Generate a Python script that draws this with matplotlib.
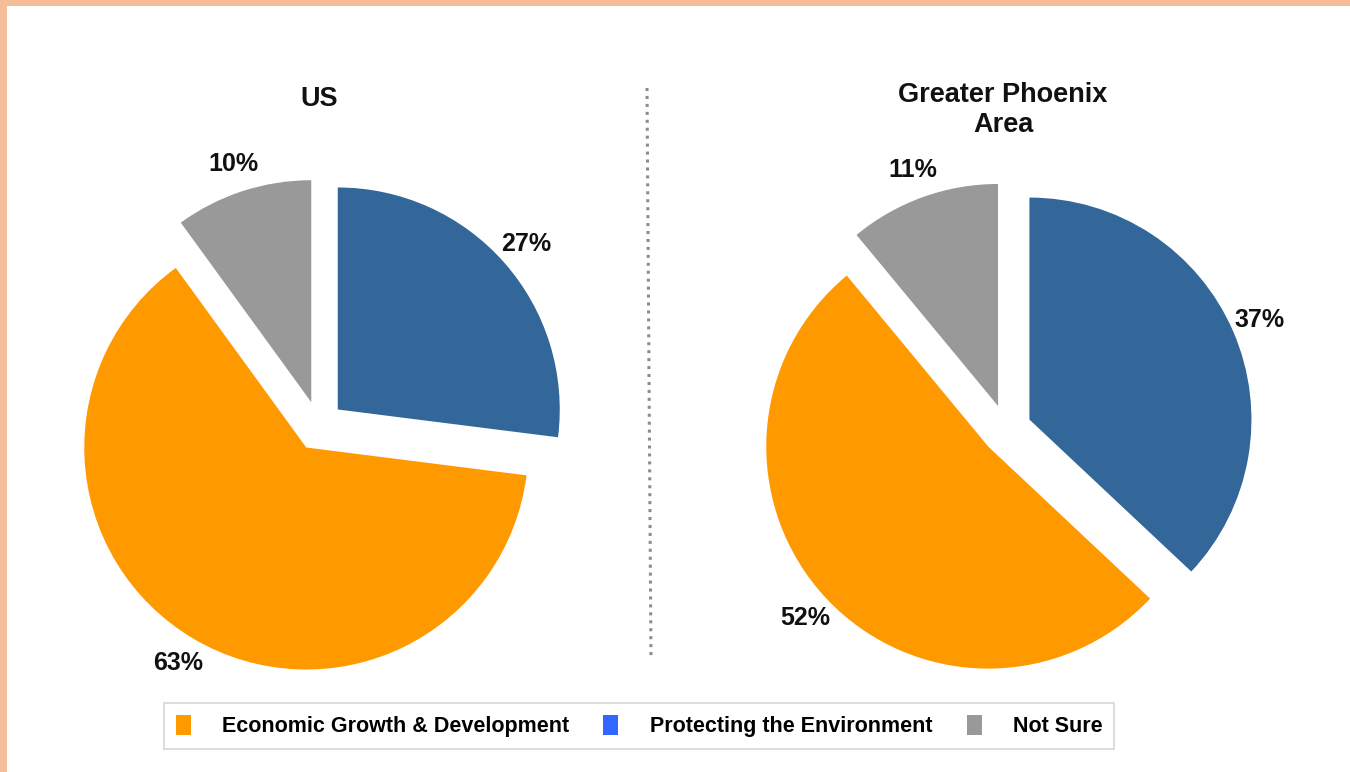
import matplotlib
matplotlib.use("Agg")
import matplotlib.pyplot as plt
from matplotlib.patches import Patch, Rectangle
from matplotlib.lines import Line2D

plt.rcParams['font.family'] = ['Liberation Sans', 'DejaVu Sans']

# ---- data ----
categories = ["Economic Growth & Development", "Protecting the Environment", "Not Sure"]
us_values = [63, 27, 10]
phx_values = [52, 37, 11]
titles = ["US", "Greater Phoenix\nArea"]
pie_colors = ["#FF9900", "#336699", "#999999"]
legend_colors = ["#FF9900", "#3366FF", "#999999"]

W, H = 1350, 772
fig = plt.figure(figsize=(W / 100, H / 100), dpi=100)
fig.patch.set_facecolor("#F5BE98")
ax = fig.add_axes([0, 0, 1, 1])
ax.set_facecolor("none")

# white panel
ax.add_patch(Rectangle((7, 0), W - 7, H - 6, facecolor="white", edgecolor="none", zorder=0))

R = 222
EXP = 25  # explode offset (data units = pixels)
centers = [(319, H - 426), (1006.5, H - 429.5)]
title_pos = [(319, H - 99), (1003, H - 110)]

def order(vals):
    # drawn clockwise from 12 o'clock: Protecting, Economic, Not Sure
    return [vals[1], vals[0], vals[2]]

for vals, c, t, tp in zip([us_values, phx_values], centers, titles, title_pos):
    v = order(vals)
    cols = [pie_colors[1], pie_colors[0], pie_colors[2]]
    wedges, texts, autotexts = ax.pie(
        v, colors=cols, startangle=90, counterclock=False, radius=R, center=c,
        explode=[EXP] * 3, autopct=lambda p: f"{p:.0f}%", pctdistance=1.13,
        wedgeprops=dict(linewidth=0), frame=True,
        textprops=dict(fontsize=18, fontweight="bold", color="#111111"))
    ax.text(tp[0], tp[1], t, ha="center", va="center", fontsize=19.5,
            fontweight="bold", color="#111111", linespacing=1.25)

# dotted separator
ax.add_line(Line2D([647, 651], [H - 88, H - 660], color="#8c8c8c", lw=2.2,
                   linestyle=(0, (1, 1.6)), solid_capstyle="butt"))

ax.set_xlim(0, W)
ax.set_ylim(0, H)
ax.set_aspect("auto")
ax.axis("off")

handles = [Patch(facecolor=col, edgecolor="none") for col in legend_colors]
leg = fig.legend(handles, categories, loc="center", bbox_to_anchor=(639 / W, 1 - 726 / H),
                 ncol=3, frameon=True, fancybox=False,
                 prop=dict(weight="bold", size=15.5),
                 handlelength=0.7, handleheight=1.05, handletextpad=1.45,
                 columnspacing=1.6, borderpad=0.55)
leg.get_frame().set_edgecolor("#CCCCCC")
leg.get_frame().set_linewidth(1.2)

fig.savefig("out.png", dpi=100, facecolor=fig.get_facecolor())
